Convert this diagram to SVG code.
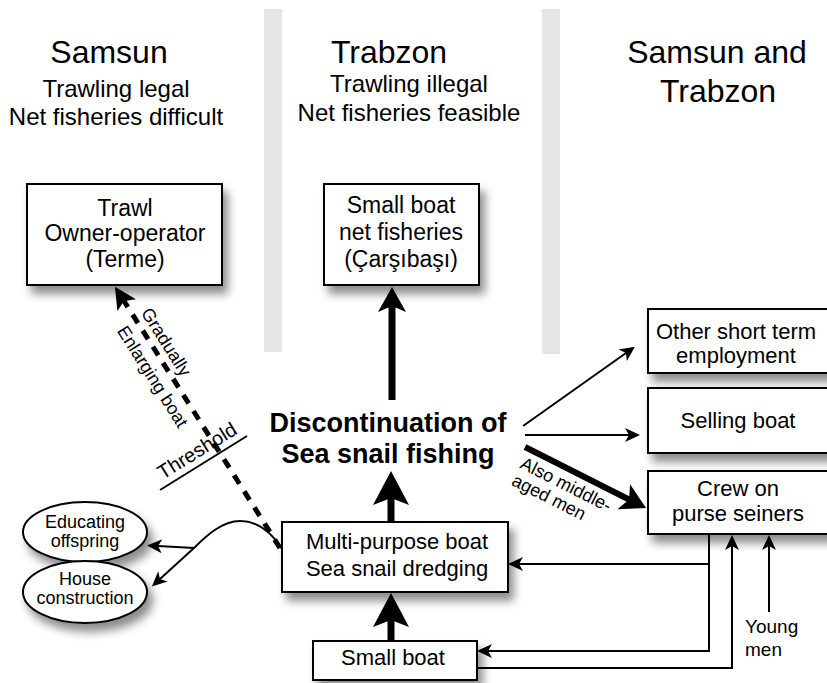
<svg xmlns="http://www.w3.org/2000/svg" width="827" height="683" viewBox="0 0 827 683">
<style>
text{font-family:"Liberation Sans",Arial,sans-serif;fill:#000}
.title{font-size:32px;text-anchor:middle}
.sub{font-size:24px;text-anchor:middle}
.box{fill:#fff;stroke:#000;stroke-width:2}
.ell{fill:#fff;stroke:#000;stroke-width:2}
.t24{font-size:23px;text-anchor:middle}
.t22{font-size:22px;text-anchor:middle}
.t18{font-size:18px;text-anchor:middle}
.lbl{font-size:18px}
.bold{font-size:27px;font-weight:bold;text-anchor:middle}
.thin{fill:none;stroke:#000;stroke-width:2}
.thick{fill:none;stroke:#000;stroke-width:7}
.band{fill:#e5e5e5}
</style>
<defs>
<filter id="sh" x="-20%" y="-20%" width="150%" height="160%">
<feDropShadow dx="5" dy="8" stdDeviation="5" flood-color="#000" flood-opacity="0.45"/>
</filter>
<marker id="big" viewBox="0 -20 40 40" markerWidth="40" markerHeight="40" refX="10" refY="0" orient="auto" markerUnits="userSpaceOnUse">
<path d="M34,0 L0,-18 L7,0 L0,18 Z" fill="#000"/>
</marker>
<marker id="mid" viewBox="0 -16 32 32" markerWidth="32" markerHeight="32" refX="7" refY="0" orient="auto" markerUnits="userSpaceOnUse">
<path d="M25,0 L0,-14 L6,0 L0,14 Z" fill="#000"/>
</marker>
<marker id="dsh" viewBox="0 -14 28 28" markerWidth="28" markerHeight="28" refX="5" refY="0" orient="auto" markerUnits="userSpaceOnUse">
<path d="M22,0 L0,-11 L5,0 L0,11 Z" fill="#000"/>
</marker>
<marker id="sm" viewBox="0 -10 20 20" markerWidth="20" markerHeight="20" refX="4" refY="0" orient="auto" markerUnits="userSpaceOnUse">
<path d="M15,0 L0,-7 L4,0 L0,7 Z" fill="#000"/>
</marker>
</defs>
<rect width="827" height="683" fill="#fff"/>
<g id="bands">
<rect class="band" x="264" y="9" width="18" height="343"/>
<rect class="band" x="542" y="9" width="18" height="345"/>
</g>
<g id="headers">
<text class="title" x="109" y="63">Samsun</text>
<text class="sub" x="116" y="97">Trawling legal</text>
<text class="sub" x="116" y="125">Net fisheries difficult</text>
<text class="title" x="389" y="63">Trabzon</text>
<text class="sub" x="409" y="92">Trawling illegal</text>
<text class="sub" x="409" y="121">Net fisheries feasible</text>
<text class="title" x="717" y="63">Samsun and</text>
<text class="title" x="718" y="102">Trabzon</text>
</g>
<g id="connectors">
<path class="thick" d="M391,641 V617" marker-end="url(#big)"/>
<path class="thick" d="M391,522 V495" marker-end="url(#big)"/>
<path class="thick" d="M392,400 V305" stroke-width="6" marker-end="url(#mid)"/>
<path d="M525,447 L630,500" fill="none" stroke="#000" stroke-width="6" marker-end="url(#mid)"/>
<path class="thin" d="M523,426 L626,353" marker-end="url(#sm)"/>
<path class="thin" d="M525,435 H629" marker-end="url(#sm)"/>
<path class="thin" d="M709,535 V651 H488" marker-end="url(#sm)"/>
<path class="thin" d="M709,564 H519" marker-end="url(#sm)"/>
<path class="thin" d="M477,668 H732 V546" marker-end="url(#sm)"/>
<path class="thin" d="M769,612 V546" marker-end="url(#sm)"/>
<path class="thin" d="M282,549 C270,530 256,521 240,521 C222,521 206,536 194,548 L160,579" marker-end="url(#sm)"/>
<path class="thin" d="M194,548 L158,546" marker-end="url(#sm)"/>
<path d="M280,548 L124,301" fill="none" stroke="#000" stroke-width="5" stroke-dasharray="10 9" marker-end="url(#dsh)"/>
<path class="thin" d="M160,490 L247,436"/>
<g transform="translate(118,292) rotate(57.7)">
<text class="lbl" x="68" y="-8" text-anchor="middle">Gradually</text>
<text class="lbl" x="90" y="22" text-anchor="middle">Enlarging boat</text>
</g>
<g transform="translate(203.5,463) rotate(-31.8)">
<text x="1" y="-7" font-size="20" text-anchor="middle">Threshold</text>
</g>
<g transform="translate(525,447) rotate(26.8)">
<text class="lbl" x="4" y="21">Also middle-</text>
<text class="lbl" x="4" y="40">aged men</text>
</g>
<text x="745" y="633" font-size="19">Young</text>
<text x="745" y="656" font-size="19">men</text>
</g>
<g id="trawl">
<rect class="box" x="27" y="184" width="195" height="101" filter="url(#sh)"/>
<text class="t24" x="125" y="216">Trawl</text>
<text class="t24" x="125" y="241">Owner-operator</text>
<text class="t24" x="125" y="267">(Terme)</text>
</g>
<g id="smallnet">
<rect class="box" x="324" y="184" width="155" height="101" filter="url(#sh)"/>
<text class="t24" x="401" y="213">Small boat</text>
<text class="t24" x="401" y="240">net fisheries</text>
<text class="t24" x="401" y="267">(Çarşıbaşı)</text>
</g>
<g id="discontinuation">
<text class="bold" x="388" y="432">Discontinuation of</text>
<text class="bold" x="388" y="463">Sea snail fishing</text>
</g>
<g id="multipurpose">
<rect class="box" x="282" y="522" width="226" height="70" filter="url(#sh)"/>
<text class="t22" x="397" y="549">Multi-purpose boat</text>
<text class="t22" x="397" y="576">Sea snail dredging</text>
</g>
<g id="smallboat">
<rect class="box" x="313" y="641" width="164" height="39" filter="url(#sh)"/>
<text class="t22" x="393" y="665">Small boat</text>
</g>
<g id="educating">
<ellipse class="ell" cx="85" cy="532" rx="62" ry="30" filter="url(#sh)"/>
<text class="t18" x="85" y="528">Educating</text>
<text class="t18" x="85" y="547">offspring</text>
</g>
<g id="house">
<ellipse class="ell" cx="85" cy="592" rx="62" ry="31" filter="url(#sh)"/>
<text class="t18" x="85" y="585">House</text>
<text class="t18" x="85" y="604">construction</text>
</g>
<g id="othershort">
<rect class="box" x="648" y="309" width="190" height="64" filter="url(#sh)"/>
<text class="t22" x="736" y="339">Other short term</text>
<text class="t22" x="736" y="363">employment</text>
</g>
<g id="selling">
<rect class="box" x="648" y="388" width="190" height="65" filter="url(#sh)"/>
<text class="t22" x="738" y="428">Selling boat</text>
</g>
<g id="crew">
<rect class="box" x="648" y="471" width="190" height="63" filter="url(#sh)"/>
<text class="t22" x="738" y="496">Crew on</text>
<text class="t22" x="738" y="521">purse seiners</text>
</g>
</svg>
